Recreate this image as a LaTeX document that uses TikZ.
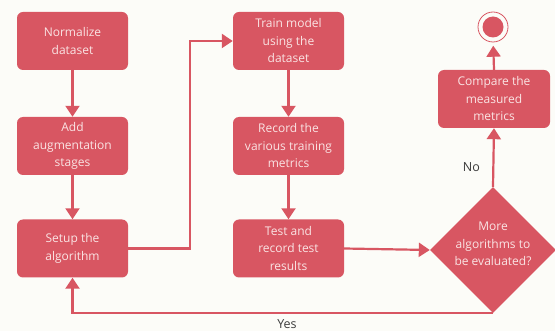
\documentclass[tikz,border=0pt]{standalone}
\usepackage{fontspec}
\setmainfont{Open Sans}
\usetikzlibrary{arrows.meta,shapes.geometric}
\definecolor{boxred}{RGB}{216,86,98}
\definecolor{boxtext}{RGB}{250,228,228}
\definecolor{bgcol}{RGB}{252,252,248}
\definecolor{lbl}{RGB}{60,60,60}
\tikzset{
  stepbox/.style={fill=boxred, draw=none, rounded corners=6pt, minimum width=111pt, minimum height=58pt,
    text=boxtext, align=center, font=\fontsize{12}{17.5}\selectfont, inner sep=0pt},
  decision/.style={diamond, fill=boxred, draw=none, minimum width=126pt, minimum height=126pt, inner sep=0pt},
  conn/.style={draw=boxred, line width=2.2pt, -{Triangle[width=14pt,length=11pt]}},
  lab/.style={text=lbl, font=\fontsize{12.5}{14}\selectfont}
}
\begin{document}
\begin{tikzpicture}[x=1pt,y=-1pt]
\fill[bgcol] (0,0) rectangle (555,331);
\useasboundingbox (0,0) rectangle (555,331);
\node[stepbox] (b1) at (72.5,41) {Normalize\\dataset};
\node[stepbox] (b2) at (72.5,146) {Add\\augmentation\\stages};
\node[stepbox] (b3) at (72.5,248.5) {Setup the\\algorithm};
\node[stepbox] (b4) at (288.5,41) {Train model\\using the\\dataset};
\node[stepbox] (b5) at (288.5,146) {Record the\\various training\\metrics};
\node[stepbox] (b6) at (288.5,248.5) {Test and\\record test\\results};
\node[stepbox, minimum width=112pt] (b7) at (494,99) {Compare the\\measured\\metrics};
\node[decision] (d) at (493,250) {};
\node[text=boxtext, align=center, font=\fontsize{12}{17.5}\selectfont, inner sep=0pt] (dt) at (493,244) {More\\algorithms to\\be evaluated?};
\node[circle, fill=boxred, minimum size=21pt, inner sep=0pt] (end) at (493,27) {};
\draw[boxred, line width=0.8pt] (end.center) circle (15pt);
\coordinate (c1) at (190,248.5);
\draw[conn] (b1.south) -- (b2.north);
\draw[conn] (b2.south) -- (b3.north);
\draw[conn] (b3.east) -- (c1) |- (b4.west);
\draw[conn] (b4.south) -- (b5.north);
\draw[conn] (b5.south) -- (b6.north);
\draw[conn] (b6.east) -- (d.west);
\draw[conn] (d.south) -| (b3.south);
\draw[conn] (d.north) -- node[lab, left=9pt, pos=0.34] (no) {No} (b7.south);
\draw[conn, shorten >=8pt] (b7.north) -- (end.south);
\coordinate (yc) at (287,313);
\node[lab, below=3pt] (yes) at (yc) {Yes};
\end{tikzpicture}
\end{document}
